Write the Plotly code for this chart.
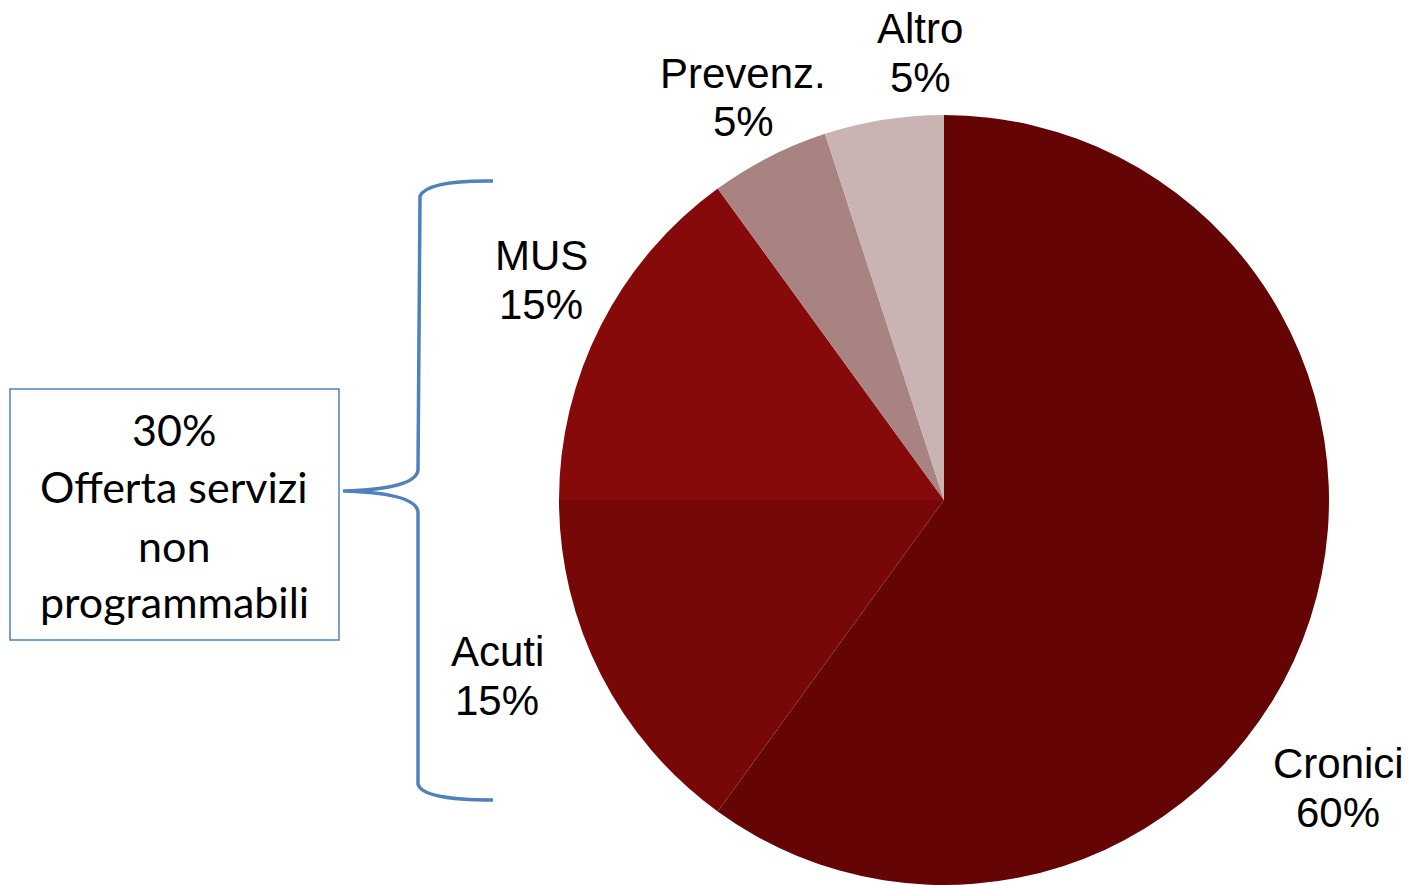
import plotly.graph_objects as go

W, H = 1408, 885

categories = ["Cronici", "Acuti", "MUS", "Prevenz.", "Altro"]
values = [60, 15, 15, 5, 5]
pct_labels = ["60%", "15%", "15%", "5%", "5%"]
colors = ["#640404", "#780808", "#870a0a", "#a98282", "#c9b3b3"]

box_text = ["30%", "Offerta servizi", "non", "programmabili"]

# label positions (pixels): x center, y of name line, y of percent line
label_pos = [(1338, 763, 812), (497, 651, 700), (541, 255, 304), (743, 73, 122), (920, 28, 77)]
box_line_y = [430, 487, 545, 601]

def px(x):
    return x / W

def py(y):
    return 1 - y / H

fig = go.Figure()
fig.add_trace(go.Pie(
    labels=categories, values=values, sort=False, direction="clockwise",
    rotation=0, textinfo="none", hoverinfo="label+percent",
    marker=dict(colors=colors, line=dict(width=0)),
    domain=dict(x=[px(559), px(1329)], y=[0, py(115)]),
    showlegend=False,
))

annotations = []
lab_font = dict(family="Liberation Sans, Arial", size=42, color="black")
for cat, pl, (x, y1, y2) in zip(categories, pct_labels, label_pos):
    for txt, y in ((cat, y1), (pl, y2)):
        annotations.append(dict(
            x=px(x), y=py(y), xref="paper", yref="paper",
            text=txt, showarrow=False, xanchor="center", yanchor="middle",
            font=lab_font,
        ))

for txt, y in zip(box_text, box_line_y):
    annotations.append(dict(
        x=px(174), y=py(y), xref="paper", yref="paper",
        text=txt, showarrow=False, xanchor="center", yanchor="middle",
        font=dict(family="Lato, Open Sans", size=43, color="black"),
    ))

def path(cmds):
    out = []
    for c in cmds:
        if isinstance(c, str):
            out.append(c)
        else:
            out.append(f"{px(c[0]):.5f},{py(c[1]):.5f}")
    return " ".join(out)

brace = path(["M", (493, 181), "Q", (428, 180), (420, 196), "L", (418, 470),
              "Q", (416, 489), (343, 491), "Q", (416, 493), (418, 512),
              "L", (418, 784), "Q", (422, 800), (493, 800)])

shapes = [
    dict(type="path", path=brace, xref="paper", yref="paper",
         line=dict(color="#4f81bd", width=3.5)),
    dict(type="rect", x0=px(10), x1=px(339), y0=py(389), y1=py(640),
         xref="paper", yref="paper", line=dict(color="#4f81bd", width=1.5)),
]

fig.update_layout(
    width=W, height=H, margin=dict(l=0, r=0, t=0, b=0),
    paper_bgcolor="white", plot_bgcolor="white",
    annotations=annotations, shapes=shapes,
)

fig.write_html("out.html", config={"displayModeBar": False},
               post_script="document.body.style.margin='0';document.body.style.overflow='hidden';")
